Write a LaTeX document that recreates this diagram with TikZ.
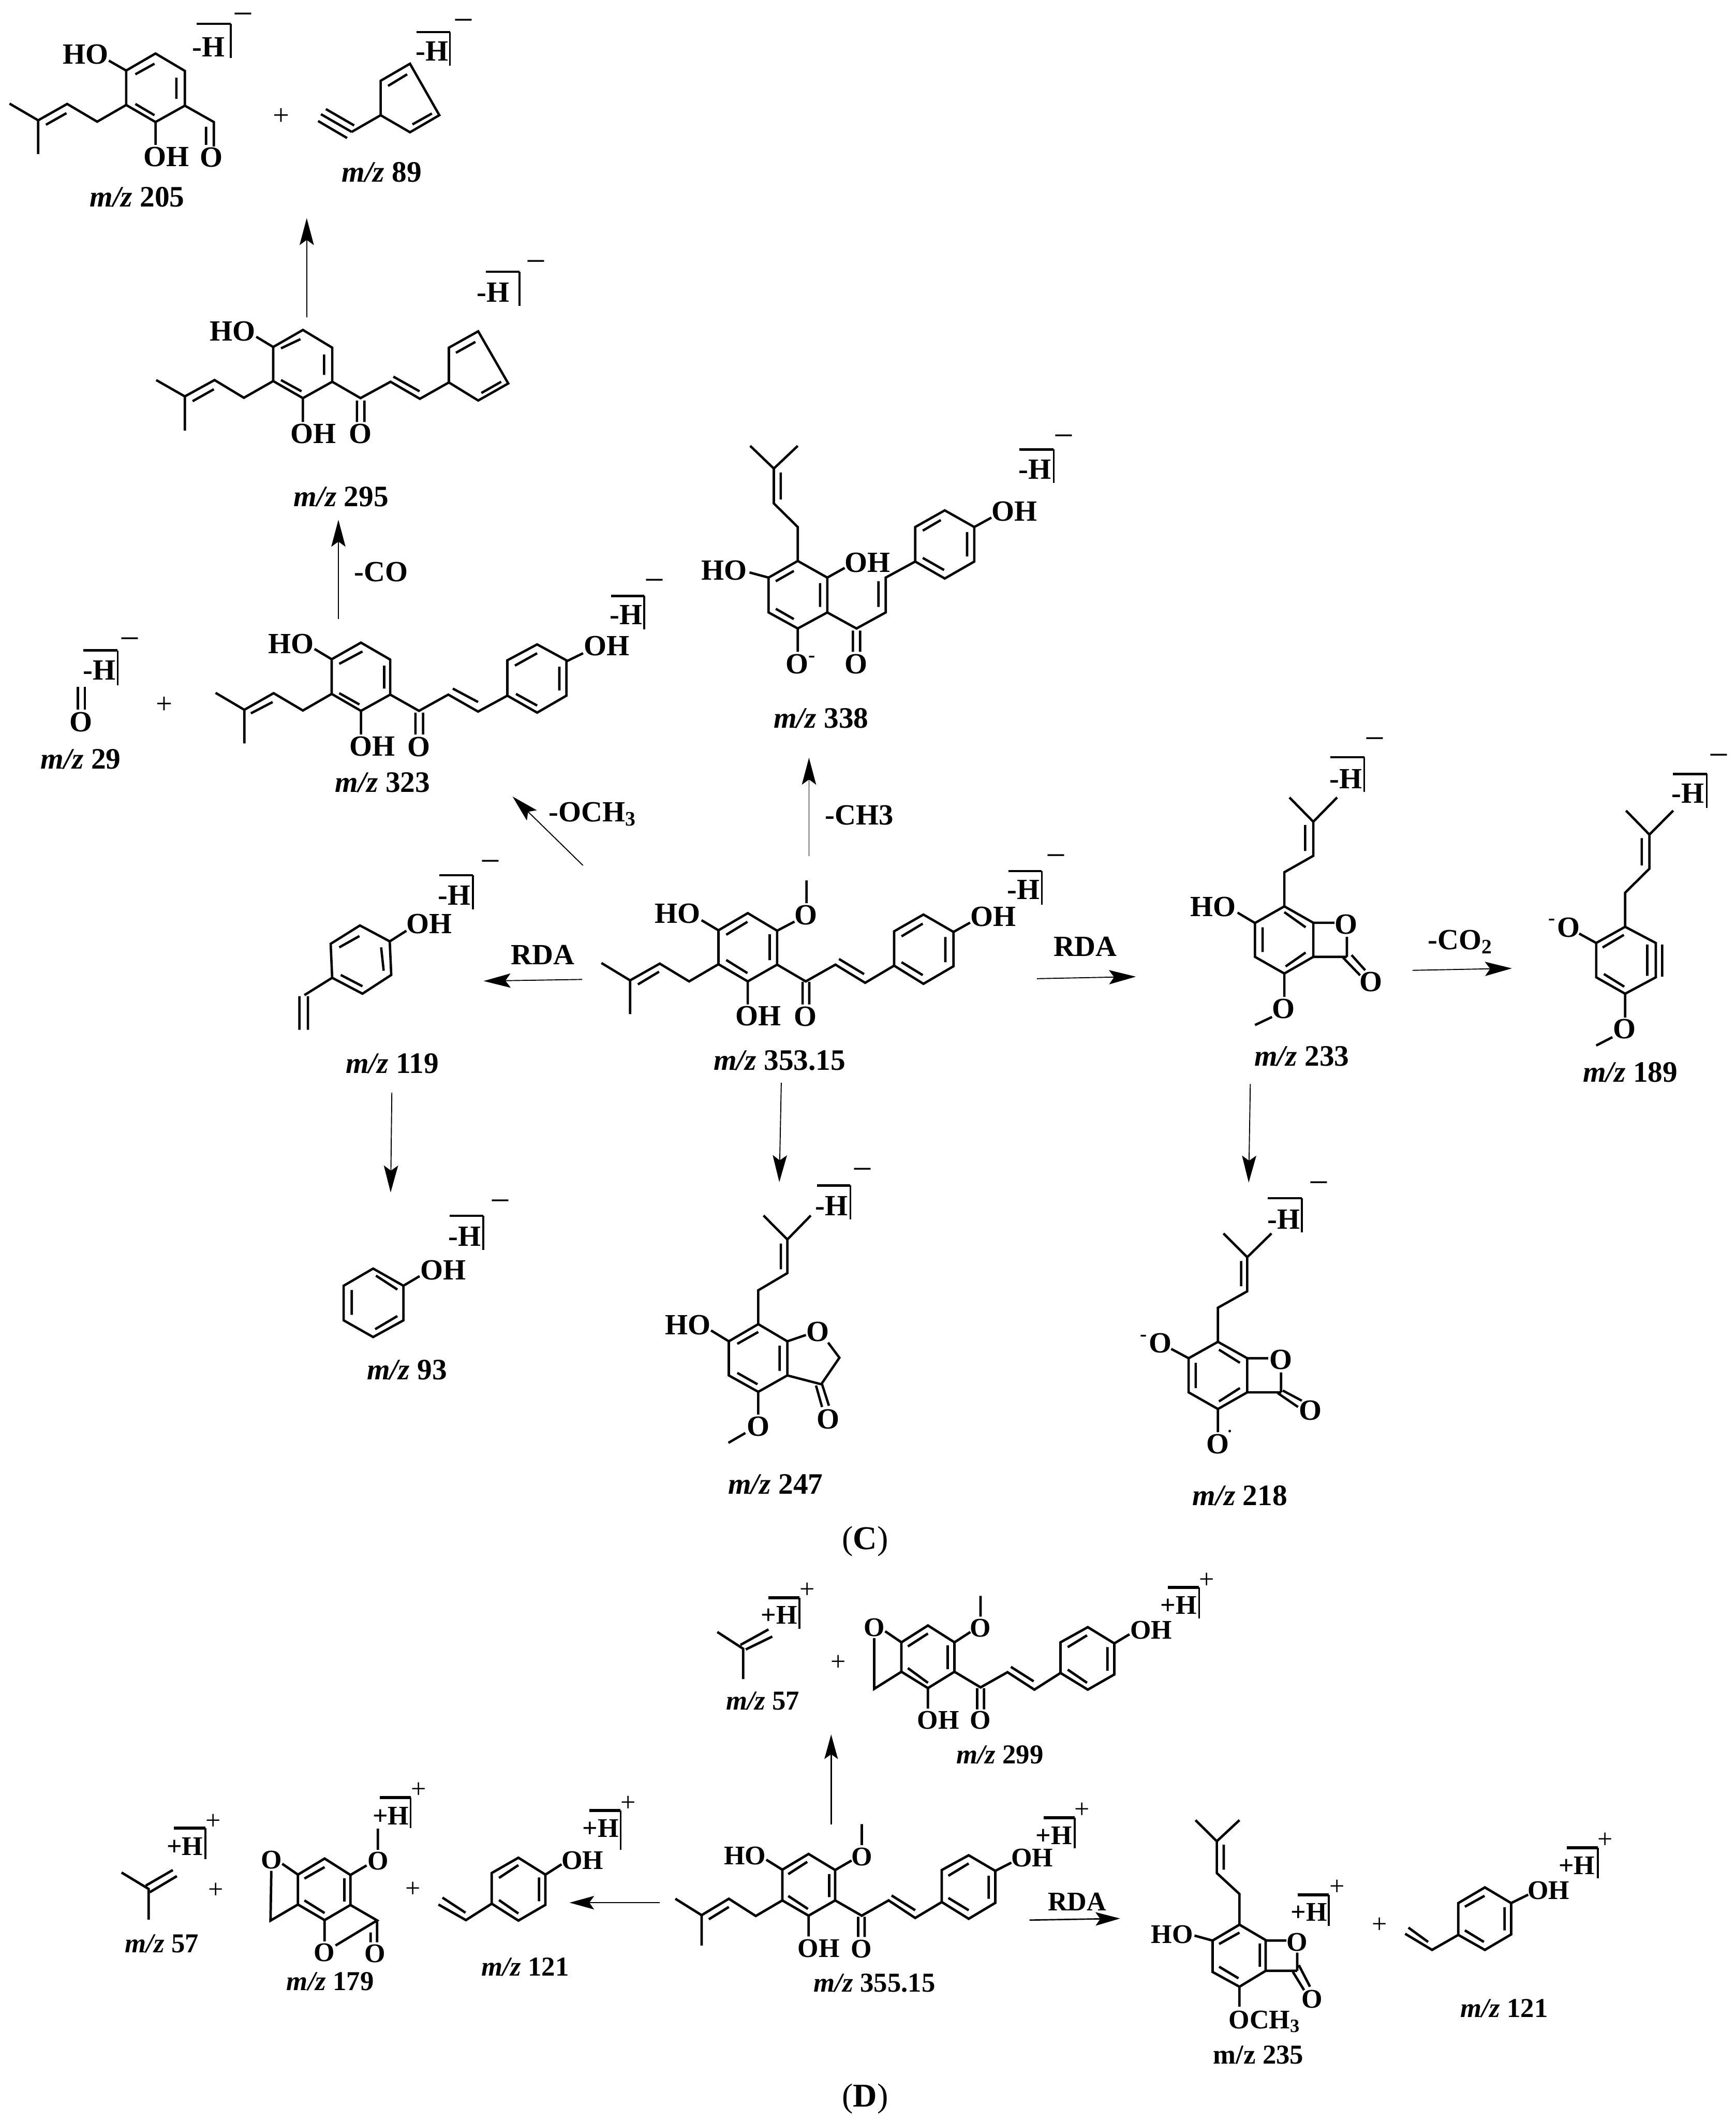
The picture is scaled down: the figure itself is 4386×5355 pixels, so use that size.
\documentclass[tikz,border=0pt]{standalone}
\usepackage{fontspec}
\setmainfont{Liberation Serif}
\usetikzlibrary{arrows.meta}
\newcount\nn
\newcommand\afont{\bfseries\fontsize{7.4}{8}\selectfont}
\newcommand\mfont{\bfseries\fontsize{7.5}{8}\selectfont}
\tikzset{
  atom/.style={inner sep=0pt,outer sep=0pt,font=\afont},
  mzlab/.style={inner sep=0pt,outer sep=0pt,font=\mfont},
  chg/.style={inner sep=0pt,outer sep=0pt,yshift=-1.7pt,font=\fontsize{9}{9}\selectfont},
  bond/.style={line width=.6pt,line join=miter,black},
  brt/.style={line width=.6pt},
  brv/.style={line width=.45pt},
  rxn/.style={line width=.25pt,-{Stealth[length=6.8pt,width=3.6pt,inset=1.3pt]}},
}
\newcommand\Lb[3]{\global\advance\nn by 1 \node[atom] (n\the\nn) at (#1,#2) {#3};}
\newcommand\Mz[3]{\global\advance\nn by 1 \node[mzlab] (n\the\nn) at (#1,#2) {\textit{m/z} #3};}
\newcommand\Bd[1]{\draw[bond] #1;}
\newcommand\Bm[8]{\draw[brt] (#1,#2)--(#3,#2); \draw[brv] (#3,#2)--(#3,#4); \Lb{#5}{#6}{-H}\global\advance\nn by 1 \node[chg] (n\the\nn) at (#7,#8) {−};}
\newcommand\Bp[8]{\draw[brt] (#1,#2)--(#3,#2); \draw[brv] (#3,#2)--(#3,#4); \Lb{#5}{#6}{+H}\Lb{#7}{#8}{\mdseries +}}
\newcommand\Plus[2]{\Lb{#1}{#2}{\mdseries +}}
\begin{document}
\begin{tikzpicture}[x=0.1pt,y=-0.1pt]
\useasboundingbox (0,0) rectangle (4386,5355);

% ---- zoom 1 region
\begin{scope}[shift={(0,0)},xscale=.893,yscale=.861]
% m/z 205
\Bd{(440,157)--(523,208)--(523,310)--(440,358)--(357,308)--(357,207)--cycle}
\Bd{(383,218)--(437,187) (499,228)--(499,290) (383,305)--(437,338)}
\Bd{(357,308)--(275,357)--(190,305)--(108,353)--(27,304) (108,353)--(108,452) (130,366)--(188,332)}
\Bd{(357,207)--(308,178) (440,358)--(440,425) (523,310)--(605,358)--(605,430) (583,372)--(583,425)}
\Lb{242}{160}{HO}\Lb{470}{460}{OH}\Lb{598}{462}{O}
\Bm{557}{70}{653}{170}{590}{138}{688}{37}
\Mz{388}{578}{205}
\Plus{796}{342}
% m/z 89
\Bd{(1077,338)--(1077,237)--(1160,187)--(1243,338)--(1160,388)--cycle}
\Bd{(1098,252)--(1152,218) (1167,365)--(1222,333)}
\Bd{(1077,338)--(995,387) (995,387)--(908,335) (1002,368)--(922,320) (982,405)--(900,355)}
\Bm{1178}{94}{1273}{193}{1222}{150}{1312}{55}
\Mz{1080}{505}{89}
% m/z 295
\Bd{(857,968)--(940,1020)--(940,1120)--(857,1168)--(773,1118)--(773,1018)--cycle}
\Bd{(795,1022)--(850,995) (917,1040)--(917,1100) (795,1115)--(853,1148)}
\Bd{(773,1118)--(690,1167)--(607,1115)--(523,1163)--(442,1115) (523,1163)--(523,1263) (545,1177)--(605,1142)}
\Bd{(773,1018)--(725,988) (857,1168)--(857,1238)}
\Bd{(940,1120)--(1020,1168)--(1105,1120)--(1188,1170)--(1270,1122) (1010,1175)--(1010,1238) (1031,1175)--(1031,1238) (1113,1105)--(1187,1148)}
\Bd{(1270,1122)--(1270,1020)--(1353,972)--(1438,1125)--(1353,1175)--cycle (1290,1035)--(1345,1003) (1362,1153)--(1418,1120)}
\Lb{658}{972}{HO}\Lb{887}{1272}{OH}\Lb{1020}{1272}{O}
\Bm{1375}{797}{1470}{897}{1395}{858}{1517}{762}
\Mz{965}{1458}{295}
\end{scope}

% ---- zoom 2 region
\begin{scope}[shift={(0,1400)},xscale=1.2755,yscale=.893]
\Lb{755}{50}{-CO}
% m/z 323
\Bd{(715,250)--(773,298)--(773,397)--(715,443)--(657,395)--(657,297)--cycle}
\Bd{(672,310)--(718,275) (761,315)--(761,380) (672,393)--(712,425)}
\Bd{(657,395)--(600,442)--(542,393)--(484,440)--(427,392) (484,440)--(484,535) (497,450)--(540,418)}
\Bd{(657,297)--(623,268) (715,443)--(715,510)}
\Bd{(773,397)--(830,443)--(888,397)--(947,445)--(1005,400) (823,448)--(823,510) (838,448)--(838,510) (897,380)--(947,418)}
\Bd{(1005,400)--(1005,300)--(1064,255)--(1122,300)--(1122,400)--(1064,448)--cycle (1020,315)--(1064,280) (1108,318)--(1108,385) (1022,395)--(1064,428)}
\Bd{(1122,303)--(1155,280)}
\Lb{577}{253}{HO}\Lb{737}{543}{OH}\Lb{830}{545}{O}\Lb{1202}{260}{OH}
\Bm{1210}{118}{1276}{213}{1240}{172}{1297}{70}
\Mz{758}{645}{323}
% m/z 29
\Bd{(154,375)--(154,440) (168,375)--(168,440)}
\Lb{160}{475}{O}
\Bm{165}{272}{233}{370}{197}{328}{257}{235}
\Mz{160}{580}{29}
\Plus{325}{427}
\Lb{1175}{730}{-OCH\smash{\textsubscript{3}}}
% m/z 119
\Bd{(713,1050)--(772,1095)--(775,1190)--(718,1243)--(658,1198)--(655,1102)--cycle}
\Bd{(672,1112)--(712,1080) (755,1112)--(760,1178) (675,1190)--(718,1222)}
\Bd{(772,1095)--(805,1065) (658,1198)--(603,1247) (593,1250)--(593,1345) (610,1250)--(610,1345)}
\Lb{850}{1045}{OH}
\Bm{870}{908}{937}{1005}{900}{965}{972}{865}
\Mz{777}{1440}{119}
\Lb{1075}{1133}{RDA}
\end{scope}

% ---- zoom 3 region
\begin{scope}[shift={(1500,1000)},xscale=.829,yscale=.765]
\Bd{(477,165)--(549,240)--(622,165) (549,240)--(549,355)--(622,433)--(622,545) (570,253)--(570,342)}
\Bd{(622,545)--(712,600)--(712,715)--(622,768)--(533,715)--(533,600)--cycle (555,612)--(610,578) (690,618)--(690,697) (555,703)--(610,737)}
\Bd{(533,600)--(475,583) (712,600)--(765,568) (622,768)--(622,845)}
\Bd{(712,715)--(801,768)--(890,715)--(890,600)--(980,547) (790,775)--(790,845) (812,775)--(812,845) (868,612)--(868,697)}
\Bd{(980,547)--(980,433)--(1070,378)--(1160,433)--(1160,547)--(1070,603)--cycle (1003,445)--(1058,410) (1138,450)--(1138,530) (1003,535)--(1068,575) (1160,433)--(1212,402)}
\Lb{398}{577}{HO}\Lb{835}{550}{OH}\Lb{633}{885}{O\smash{\textsuperscript{-}}}\Lb{800}{885}{O}\Lb{1283}{382}{OH}
\Bm{1297}{177}{1402}{288}{1345}{243}{1433}{127}
\Mz{693}{1065}{338}
\Lb{810}{1385}{-CH3}
\end{scope}

% ---- zoom 4 region
\begin{scope}[shift={(1400,2100)},xscale=.893,yscale=.51]
\Bd{(548,405)--(631,492)--(631,660)--(548,743)--(465,658)--(465,490)--cycle (487,512)--(547,448) (610,510)--(610,638) (487,637)--(547,702)}
\Bd{(465,658)--(382,743)--(299,655)--(215,738)--(134,652) (215,738)--(215,905) (237,758)--(297,695)}
\Bd{(465,490)--(417,440) (631,492)--(680,447) (714,355)--(714,243) (548,743)--(548,857)}
\Bd{(631,660)--(712,743)--(796,660)--(880,750)--(962,665) (703,745)--(703,857) (722,745)--(722,857) (806,632)--(877,707)}
\Bd{(962,665)--(962,495)--(1045,412)--(1130,498)--(1130,668)--(1045,755)--cycle (983,520)--(1043,457) (1107,523)--(1107,648) (983,648)--(1043,712) (1130,498)--(1177,452)}
\Lb{350}{408}{HO}\Lb{713}{415}{O}\Lb{578}{915}{OH}\Lb{711}{917}{O}\Lb{1243}{423}{OH}
\Bm{1285}{197}{1380}{363}{1328}{290}{1420}{112}
\Mz{638}{1135}{353.15}
\end{scope}
\Lb{2742}{2391}{RDA}

% ---- zoom 5 region
\begin{scope}[shift={(2700,1800)},xscale=1.075,yscale=.638]
% m/z 233
\Bd{(519,336)--(575,432)--(631,336) (575,432)--(575,567)--(507,632)--(507,767) (556,445)--(556,548)}
\Bd{(507,767)--(575,832)--(575,967)--(507,1033)--(438,967)--(438,833)--cycle (507,790)--(557,850) (456,850)--(456,948) (510,1005)--(557,950)}
\Bd{(438,833)--(397,792) (575,832)--(625,832) (654,888)--(654,967) (575,967)--(654,967) (645,970)--(685,1040) (665,960)--(697,1020) (507,1033)--(507,1125) (478,1205)--(438,1237)}
\Lb{340}{768}{HO}\Lb{652}{838}{O}\Lb{710}{1065}{O}\Lb{505}{1172}{O}
\Bm{615}{177}{695}{313}{652}{262}{720}{97}
\Mz{548}{1360}{233}
\Lb{922}{900}{-CO\smash{\textsubscript{2}}}
% m/z 189
\Bd{(1310,388)--(1365,483)--(1421,388) (1365,483)--(1365,618)--(1308,713)--(1308,848) (1347,497)--(1347,605)}
\Bd{(1308,848)--(1380,912)--(1380,1048)--(1308,1113)--(1240,1048)--(1240,912)--cycle (1255,930)--(1305,880) (1360,918)--(1360,1042) (1395,918)--(1395,1045) (1258,1035)--(1306,1085)}
\Bd{(1240,912)--(1200,875) (1308,1113)--(1308,1207) (1278,1285)--(1240,1318)}
\Lb{1165}{850}{\smash{\textsuperscript{-}}O}\Lb{1307}{1252}{O}
\Bm{1420}{243}{1500}{378}{1455}{320}{1528}{163}
\Mz{1320}{1423}{189}
\end{scope}

% ---- zoom 6 region
\begin{scope}[shift={(700,2900)},xscale=1.02,yscale=.638]
% m/z 93
\Bd{(238,477)--(313,545)--(313,682)--(238,748)--(165,682)--(165,545)--cycle (245,505)--(298,560) (185,562)--(185,660) (243,717)--(298,665) (313,545)--(353,507)}
\Lb{412}{483}{OH}
\Bm{427}{268}{511}{403}{465}{350}{553}{202}
\Mz{322}{878}{93}
% m/z 247
\Bd{(1205,267)--(1264,362)--(1322,267) (1264,362)--(1264,495)--(1192,563)--(1192,697) (1248,378)--(1248,480)}
\Bd{(1192,697)--(1264,765)--(1264,900)--(1192,965)--(1119,900)--(1119,765)--cycle (1140,775)--(1192,728) (1245,782)--(1245,882) (1140,890)--(1190,935)}
\Bd{(1119,765)--(1075,722) (1264,765)--(1310,740) (1365,770)--(1393,830)--(1348,935)--(1264,900) (1335,940)--(1350,1025) (1350,935)--(1367,1020) (1192,965)--(1192,1055) (1160,1128)--(1118,1167)}
\Lb{1018}{700}{HO}\Lb{1340}{727}{O}\Lb{1365}{1073}{O}\Lb{1192}{1103}{O}
\Bm{1337}{148}{1420}{283}{1373}{230}{1450}{77}
\Mz{1235}{1332}{247}
\end{scope}

% ---- zoom 7 region
\begin{scope}[shift={(2600,2900)},xscale=.638,yscale=.638]
\Bd{(770,338)--(864,432)--(960,338) (864,432)--(864,567)--(748,632)--(748,767) (840,447)--(840,547)}
\Bd{(748,767)--(864,832)--(864,967)--(748,1033)--(632,967)--(632,832)--cycle (752,798)--(835,850) (660,850)--(660,950) (752,1003)--(835,950)}
\Bd{(632,832)--(563,795) (864,832)--(947,832) (998,888)--(998,967) (864,967)--(998,967) (985,970)--(1065,1025) (1005,960)--(1080,1000) (748,1033)--(748,1125)}
\Lb{503}{772}{\smash{\textsuperscript{-}}O}\Lb{998}{838}{O}\Lb{1115}{1038}{O}\Lb{748}{1172}{O}
\Lb{795}{1122}{\fontsize{4}{4}\selectfont .}
\Bm{945}{198}{1080}{333}{1008}{283}{1148}{132}
\Mz{835}{1375}{218}
\end{scope}

\global\advance\nn by 1
\node[inner sep=0pt,font=\fontsize{8.4}{10}\selectfont] (n\the\nn) at (2186,3894) {(\textbf{C})};

% ---- reaction arrows, part C
\coordinate (s1) at (775,802);   \coordinate (e1) at (775,551);
\coordinate (s2) at (855,1563);  \coordinate (e2) at (855,1313);
\coordinate (s3) at (1473,2186); \coordinate (e3) at (1295,2012);
\coordinate (s4) at (1471,2474); \coordinate (e4) at (1222,2478);
\coordinate (s5) at (2044,2163); \coordinate (e5) at (2044,1914);
\coordinate (s6) at (2620,2472); \coordinate (e6) at (2870,2467);
\coordinate (s7) at (1974,2735); \coordinate (e7) at (1969,2986);
\coordinate (s8) at (990,2760);  \coordinate (e8) at (987,3012);
\coordinate (s9) at (3569,2451); \coordinate (e9) at (3820,2446);
\coordinate (s10) at (3159,2738);\coordinate (e10) at (3155,2987);
\foreach \i in {1,...,10} {\draw[rxn] (s\i) -- (e\i);}

% ---- part D
\renewcommand\afont{\bfseries\fontsize{6.8}{8}\selectfont}
\renewcommand\mfont{\bfseries\fontsize{6.9}{8}\selectfont}
\tikzset{bond/.style={line width=.62pt,line join=miter,black},brt/.style={line width=.8pt},brv/.style={line width=.45pt}}

% zoom 8 region
\begin{scope}[shift={(1600,3950)},xscale=.957,yscale=.383]
\Bd{(222,450)--(290,560)--(290,760) (283,535)--(357,433) (297,565)--(367,480)}
\Mz{342}{905}{57}
\Bp{357}{224}{439}{428}{385}{340}{459}{175}
\Plus{541}{655}
\Bd{(778,407)--(848,518)--(848,712)--(778,820)--(708,712)--(708,518)--cycle (725,545)--(778,460) (830,538)--(830,695) (725,688)--(778,785)}
\Bd{(708,518)--(665,445) (636,490)--(636,825)--(708,712) (848,518)--(890,450) (917,348)--(917,212) (778,820)--(778,955)}
\Bd{(848,712)--(917,815)--(988,715)--(1059,830)--(1128,720) (908,820)--(908,960) (926,820)--(926,960) (997,680)--(1057,775)}
\Bd{(1128,720)--(1128,518)--(1200,418)--(1270,525)--(1270,730)--(1200,830)--cycle (1147,550)--(1198,472) (1252,550)--(1252,705) (1147,698)--(1198,785) (1270,525)--(1310,465)}
\Lb{637}{420}{O}\Lb{917}{425}{O}\Lb{805}{1030}{OH}\Lb{917}{1033}{O}\Lb{1367}{437}{OH}
\Bp{1412}{157}{1494}{360}{1440}{273}{1514}{110}
\Mz{968}{1260}{299}
\end{scope}

% zoom 9 region
\begin{scope}[shift={(200,4450)},xscale=1.02,yscale=.4145]
\Bd{(105,675)--(172,775)--(172,962) (165,755)--(232,660) (175,795)--(242,697)}
\Mz{205}{1108}{57}
\Bp{235}{405}{313}{595}{262}{515}{332}{365}
\Plus{338}{785}
\Bd{(608,590)--(672,690)--(672,873)--(608,965)--(542,870)--(542,688)--cycle (558,712)--(608,642) (657,710)--(657,852) (558,845)--(608,922)}
\Bd{(542,688)--(503,622) (476,665)--(474,968)--(542,870) (672,690)--(712,632) (740,537)--(740,408) (672,873)--(738,967)--(635,1120) (608,965)--(608,1095) (738,967)--(738,1100) (722,1040)--(722,1100)}
\Lb{476}{598}{O}\Lb{740}{605}{O}\Lb{607}{1162}{O}\Lb{733}{1168}{O}
\Bp{745}{217}{821}{405}{772}{330}{841}{172}
\Mz{622}{1340}{179}
\Plus{827}{780}
\Bd{(1088,585)--(1155,688)--(1155,872)--(1088,968)--(1022,865)--(1022,678)--cycle (1040,708)--(1088,630) (1139,705)--(1139,850) (1040,843)--(1088,925) (1155,688)--(1195,625) (1022,865)--(958,965)--(890,870) (957,920)--(900,828)}
\Lb{1247}{600}{OH}
\Bp{1264}{296}{1341}{538}{1292}{405}{1360}{255}
\Mz{1105}{1250}{121}
\end{scope}

% zoom 10 region
\begin{scope}[shift={(1650,4450)},xscale=.829,yscale=.4145]
\Bd{(474,562)--(555,660)--(555,845)--(474,938)--(394,845)--(394,658)--cycle (412,685)--(470,610) (537,685)--(537,825) (412,818)--(472,897)}
\Bd{(394,845)--(313,940)--(231,835)--(148,935)--(68,835) (148,935)--(148,1120) (170,960)--(231,885)}
\Bd{(394,658)--(345,597) (555,660)--(605,602) (636,508)--(636,380) (474,938)--(474,1065)}
\Bd{(555,845)--(636,938)--(718,845)--(799,952)--(880,855) (625,945)--(625,1068) (645,945)--(645,1068) (727,815)--(799,905)}
\Bd{(880,855)--(880,660)--(962,570)--(1043,665)--(1043,860)--(962,957)--cycle (900,695)--(962,620) (1023,695)--(1023,835) (900,830)--(962,905) (1043,665)--(1092,615)}
\Lb{280}{572}{HO}\Lb{636}{578}{O}\Lb{505}{1137}{OH}\Lb{635}{1140}{O}\Lb{1155}{587}{OH}
\Bp{1190}{340}{1285}{527}{1222}{450}{1308}{297}
\Mz{675}{1350}{355.15}
\Lb{1292}{852}{RDA}
\end{scope}

% zoom 11 region
\begin{scope}[shift={(2800,4450)},xscale=.829,yscale=.574]
\Bd{(266,257)--(331,350)--(400,257) (331,350)--(331,490)--(400,582)--(400,717) (352,365)--(352,475)}
\Bd{(400,717)--(480,785)--(480,920)--(400,990)--(318,925)--(318,787)--cycle (338,802)--(400,752) (462,800)--(462,902) (338,902)--(397,953)}
\Bd{(318,787)--(263,765) (480,787)--(543,787) (576,840)--(576,920) (480,920)--(576,920) (563,925)--(597,1005) (581,895)--(615,990) (400,990)--(400,1078)}
\Lb{195}{760}{HO}\Lb{576}{795}{O}\Lb{622}{1045}{O}\Lb{478}{1135}{OCH\smash{\textsubscript{3}}}
\Bp{578}{585}{672}{722}{612}{662}{697}{553}
\global\advance\nn by 1
\node[mzlab] (n\the\nn) at (458,1290) {m/z 235};
\Plus{827}{720}
\Bd{(1148,553)--(1228,622)--(1228,760)--(1148,828)--(1067,762)--(1067,622)--cycle (1087,638)--(1147,590) (1208,640)--(1208,742) (1087,742)--(1145,793) (1228,622)--(1280,585) (1067,762)--(987,828)--(905,757) (975,793)--(915,730)}
\Lb{1342}{567}{OH}
\Bp{1397}{378}{1492}{512}{1428}{458}{1515}{347}
\Mz{1207}{1085}{121}
\end{scope}

\global\advance\nn by 1
\node[inner sep=0pt,font=\fontsize{8.4}{10}\selectfont] (n\the\nn) at (2186,5301) {(\textbf{D})};

% ---- reaction arrows, part D
\tikzset{rxn/.style={line width=.35pt,-{Stealth[length=6.2pt,width=3.4pt,inset=1.2pt]}}}
\coordinate (s11) at (2100,4609); \coordinate (e11) at (2100,4381);
\coordinate (s12) at (1667,4806); \coordinate (e12) at (1439,4806);
\coordinate (s13) at (2601,4850); \coordinate (e13) at (2830,4846);
\foreach \i in {11,12,13} {\draw[rxn] (s\i) -- (e\i);}
\end{tikzpicture}
\end{document}
